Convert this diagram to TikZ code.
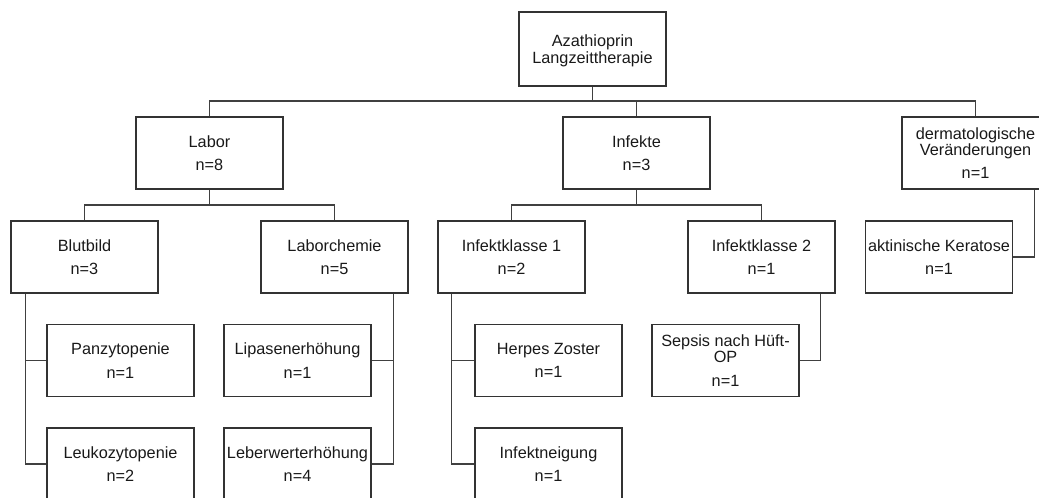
\documentclass[tikz,border=0pt]{standalone}
\usepackage{fontspec}
\setmainfont{Liberation Sans}
\usetikzlibrary{calc}
\begin{document}
\begin{tikzpicture}[x=0.75pt,y=-0.75pt,
  box/.style={draw=black!80,line width=0.8pt,rectangle,inner sep=0pt,
    minimum width=110.25pt,minimum height=54pt,align=center,text depth=0pt,
    font=\fontsize{12.2}{12.2}\selectfont,text=black!90},
  link/.style={draw=black!75,line width=0.8pt}]
\useasboundingbox (0,0) rectangle (1039,497);
% level 0
\node[box,minimum height=55.5pt] (root) at (592.5,49) {Azathioprin\\Langzeittherapie};
% level 1
\node[box] (labor) at (209.5,153) {Labor\\[5.3pt]n=8};
\node[box] (infekte) at (636.5,153) {Infekte\\[5.3pt]n=3};
\node[box] (derm) at (975.5,153) {dermatologische\\Veränderungen\\[5.3pt]n=1};
% level 2
\node[box] (blut) at (84.5,257) {Blutbild\\[5.3pt]n=3};
\node[box] (chem) at (334.5,257) {Laborchemie\\[5.3pt]n=5};
\node[box] (ik1) at (511.5,257) {Infektklasse 1\\[5.3pt]n=2};
\node[box] (ik2) at (761.5,257) {Infektklasse 2\\[5.3pt]n=1};
\node[box] (akt) at (939,257) {aktinische Keratose\\[5.3pt]n=1};
% level 3
\node[box] (panz) at (120.5,360.5) {Panzytopenie\\[5.3pt]n=1};
\node[box] (lip) at (297.5,360.5) {Lipasenerhöhung\\[5.3pt]n=1};
\node[box] (herp) at (548.5,360.5) {Herpes Zoster\\[5.3pt]n=1};
\node[box] (seps) at (725.5,360.5) {Sepsis nach Hüft-\\OP\\[5.3pt]n=1};
% level 4
\node[box] (leuk) at (120.5,464) {Leukozytopenie\\[5.3pt]n=2};
\node[box] (leber) at (297.5,464) {Leberwerterhöhung\\[5.3pt]n=4};
\node[box] (infn) at (548.5,464) {Infektneigung\\[5.3pt]n=1};
% bus coordinates
\coordinate (bus0) at (0,101);
\coordinate (bus1) at (0,205);
% connectors root
\draw[link] (root.south) -- (root.south |- bus0);
\draw[link] (labor.north) |- (derm.north |- bus0) -- (derm.north);
\draw[link] (infekte.north) -- (infekte.north |- bus0);
% labor children
\draw[link] (labor.south) -- (labor.south |- bus1);
\draw[link] (blut.north) |- (chem.north |- bus1) -- (chem.north);
% infekte children
\draw[link] (infekte.south) -- (infekte.south |- bus1);
\draw[link] (ik1.north) |- (ik2.north |- bus1) -- (ik2.north);
% side branches
\coordinate (bb) at ($(blut.south west)+(15,0)$);
\draw[link] (bb) |- (leuk.west);
\draw[link] (bb |- panz.west) -- (panz.west);
\coordinate (cb) at ($(chem.south east)+(-15,0)$);
\draw[link] (cb) |- (leber.east);
\draw[link] (cb |- lip.east) -- (lip.east);
\coordinate (ib) at ($(ik1.south west)+(14,0)$);
\draw[link] (ib) |- (infn.west);
\draw[link] (ib |- herp.west) -- (herp.west);
\coordinate (i2b) at ($(ik2.south east)+(-15,0)$);
\draw[link] (i2b) |- (seps.east);
\coordinate (db) at ($(derm.south east)+(-15,0)$);
\draw[link] (db) |- (akt.east);
\end{tikzpicture}
\end{document}
